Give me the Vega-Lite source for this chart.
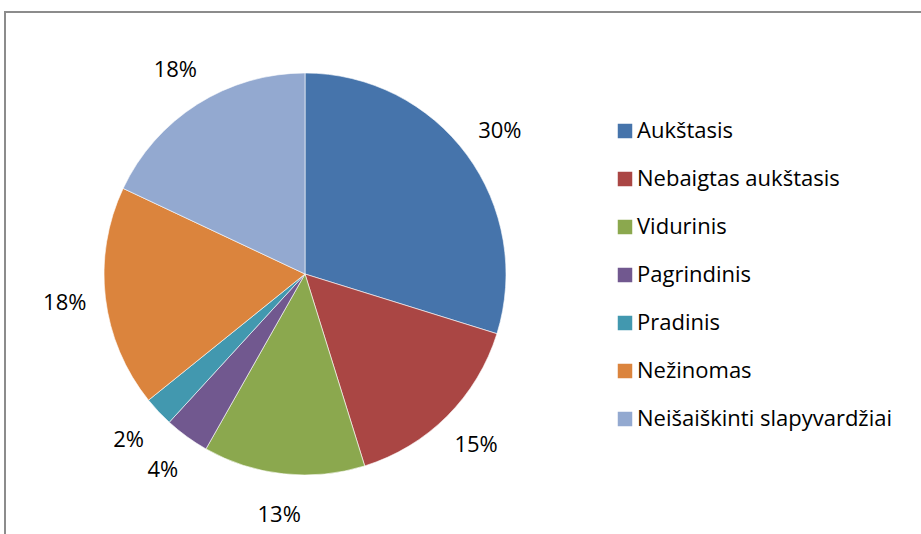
{
  "$schema": "https://vega.github.io/schema/vega-lite/v6.json",
  "width": 925,
  "height": 530,
  "padding": {"left": 5, "top": 12, "right": 0, "bottom": 0},
  "autosize": {"type": "none"},
  "background": "white",
  "config": {
    "view": {"stroke": "#8c8c8c", "strokeWidth": 2},
    "font": "Open Sans"
  },
  "data": {
    "values": [
      {"kategorija": "Aukštasis", "dalis": 29.8, "zyme": "30%", "eile": 1},
      {"kategorija": "Nebaigtas aukštasis", "dalis": 15.4, "zyme": "15%", "eile": 2},
      {"kategorija": "Vidurinis", "dalis": 13.0, "zyme": "13%", "eile": 3},
      {"kategorija": "Pagrindinis", "dalis": 3.6, "zyme": "4%", "eile": 4},
      {"kategorija": "Pradinis", "dalis": 2.4, "zyme": "2%", "eile": 5},
      {"kategorija": "Nežinomas", "dalis": 17.8, "zyme": "18%", "eile": 6},
      {"kategorija": "Neišaiškinti slapyvardžiai", "dalis": 18.0, "zyme": "18%", "eile": 7}
    ]
  },
  "encoding": {
    "theta": {"field": "dalis", "type": "quantitative", "stack": true},
    "order": {"field": "eile", "type": "quantitative", "sort": "ascending"},
    "x": {"value": 300},
    "y": {"value": 262}
  },
  "layer": [
    {
      "mark": {"type": "arc", "radius": 201, "stroke": "#ffffff", "strokeWidth": 0.6},
      "encoding": {
        "color": {
          "field": "kategorija",
          "type": "nominal",
          "scale": {
            "domain": ["Aukštasis", "Nebaigtas aukštasis", "Vidurinis", "Pagrindinis", "Pradinis", "Nežinomas", "Neišaiškinti slapyvardžiai"],
            "range": ["#4674AB", "#AA4644", "#8BA84E", "#71588F", "#4298AF", "#DB843D", "#93A9D0"]
          },
          "legend": {
            "title": null,
            "orient": "none",
            "legendX": 609,
            "legendY": 108,
            "symbolType": "square",
            "symbolSize": 210,
            "symbolStrokeWidth": 0,
            "labelFontSize": 22,
            "labelFont": "Open Sans",
            "labelColor": "#000000",
            "labelOffset": 1,
            "rowPadding": 26,
            "labelLimit": 400
          }
        }
      }
    },
    {
      "mark": {"type": "text", "radius": 242, "fontSize": 22, "font": "Open Sans", "color": "#000000", "baseline": "middle", "align": "center"},
      "encoding": {
        "text": {"field": "zyme", "type": "nominal"}
      }
    }
  ]
}
